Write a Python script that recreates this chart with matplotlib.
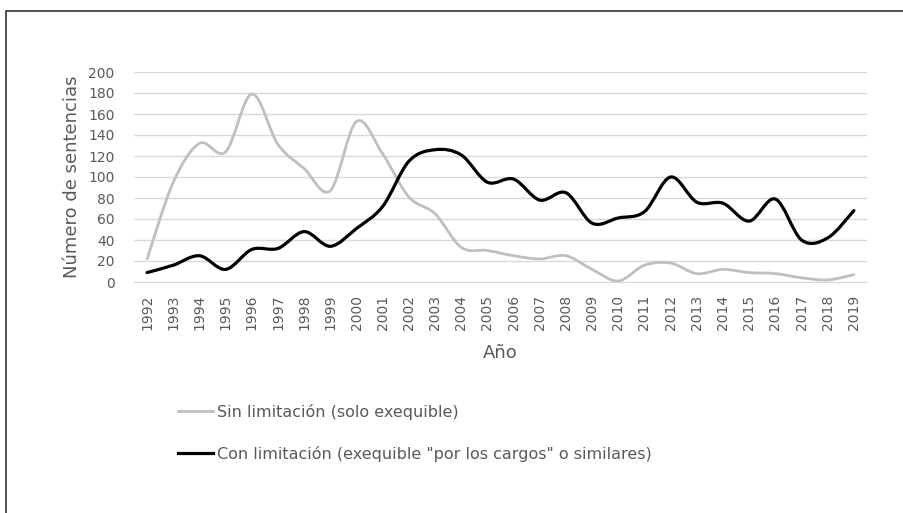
import numpy as np
import matplotlib.pyplot as plt
from matplotlib.path import Path
from matplotlib.patches import PathPatch
from matplotlib.lines import Line2D

years = list(range(1992, 2020))
sin_limitacion = [22, 95, 132, 124, 179, 131, 108, 87, 153, 122, 81, 65, 33, 30,
                  25, 22, 25, 12, 1, 16, 18, 8, 12, 9, 8, 4, 2, 7]
con_limitacion = [9, 16, 25, 12, 31, 32, 48, 34, 51, 72, 115, 126, 121, 95,
                  98, 78, 85, 56, 61, 67, 100, 76, 75, 58, 79, 40, 42, 68]

label_sin = "Sin limitación (solo exequible)"
label_con = 'Con limitación (exequible "por los cargos" o similares)'

text_color = "#595959"
grid_color = "#d9d9d9"
gray_line = "#bfbfbf"

plt.rcParams.update({"font.family": "DejaVu Sans", "font.size": 10})


def smooth_path(x, y):
    # Excel-style smoothed line: Catmull-Rom segments as cubic Beziers
    pts = np.column_stack([x, y]).astype(float)
    padded = np.vstack([pts[0], pts, pts[-1]])
    verts = [pts[0]]
    codes = [Path.MOVETO]
    for i in range(len(pts) - 1):
        p0, p1, p2, p3 = padded[i], padded[i + 1], padded[i + 2], padded[i + 3]
        c1 = p1 + (p2 - p0) / 6.0
        c2 = p2 - (p3 - p1) / 6.0
        verts += [c1, c2, p2]
        codes += [Path.CURVE4] * 3
    return Path(verts, codes)


fig = plt.figure(figsize=(9.04, 5.13), dpi=100)
ax = fig.add_axes([134 / 904, 1 - 282 / 513, 733 / 904, 210 / 513])

xs = np.arange(len(years))
for vals, color, lw in [(sin_limitacion, gray_line, 2.0), (con_limitacion, "black", 2.3)]:
    patch = PathPatch(smooth_path(xs, vals), fill=False, edgecolor=color,
                      linewidth=lw, transform=ax.transData, clip_on=False,
                      capstyle="round", joinstyle="round")
    ax.add_patch(patch)

ax.set_xlim(-0.5, len(years) - 0.5)
ax.set_ylim(0, 200)
ax.set_yticks(range(0, 201, 20))
ax.set_xticks(xs)
ax.set_xticklabels([str(y) for y in years], rotation=90)
ax.yaxis.grid(True, color=grid_color, linewidth=1.0)
ax.set_axisbelow(True)
for side in ["top", "right", "left"]:
    ax.spines[side].set_visible(False)
ax.spines["bottom"].set_color(grid_color)
ax.tick_params(axis="both", length=0, colors=text_color, labelsize=10)
ax.tick_params(axis="y", pad=14)
ax.tick_params(axis="x", pad=9)
ax.set_xlabel("Año", color=text_color, fontsize=13, labelpad=10)
ax.set_ylabel("Número de sentencias", color=text_color, fontsize=13, labelpad=5)

handles = [Line2D([], [], color=gray_line, linewidth=2.0),
           Line2D([], [], color="black", linewidth=2.3)]
fig.legend(handles, [label_sin, label_con], loc="upper left",
           bbox_to_anchor=(178 / 904, 1 - 404 / 513), frameon=False,
           borderpad=0, borderaxespad=0, handlelength=2.2, handletextpad=0.25,
           labelspacing=1.6, labelcolor=text_color, fontsize=11.5)

# outer frame (left and top edges visible)
fig.add_artist(Line2D([6 / 904, 6 / 904, 1.0], [0.0, 1 - 11 / 513, 1 - 11 / 513],
                      transform=fig.transFigure, color="#333333", linewidth=1.2))

fig.savefig("out.png", dpi=100)
